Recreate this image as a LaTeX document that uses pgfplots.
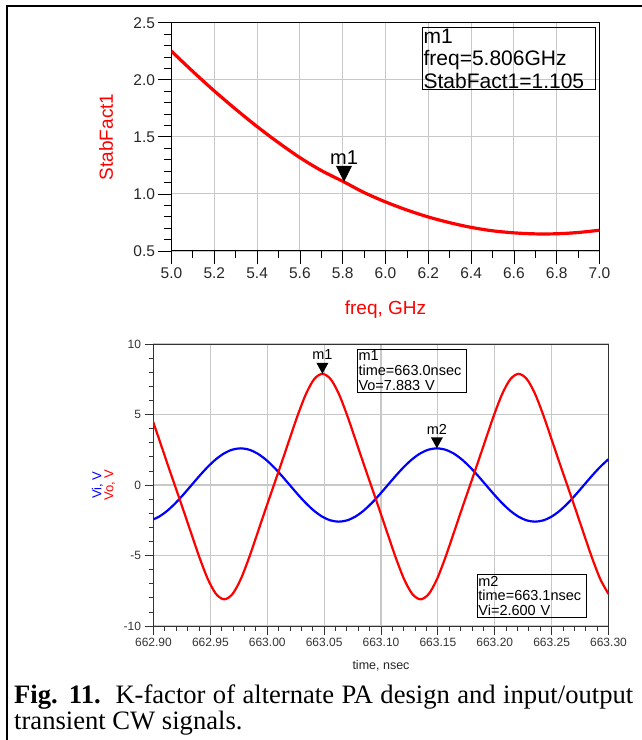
\documentclass[border=0pt]{standalone}
\usepackage{pgfplots}
\usepackage{pgfplotstable}
\pgfplotsset{compat=1.18}
\usepackage{fontspec}
\setmainfont{Liberation Sans}
\newfontfamily\capfont{Liberation Serif}

\definecolor{adsred}{RGB}{255,0,0}
\definecolor{adsblue}{RGB}{0,0,255}
\definecolor{gridgray}{RGB}{200,200,200}

% downward marker triangles, tip on the data point
\pgfdeclareplotmark{dtriL}{%
  \pgfpathmoveto{\pgfqpoint{0pt}{0pt}}%
  \pgfpathlineto{\pgfqpoint{-8pt}{16pt}}%
  \pgfpathlineto{\pgfqpoint{8pt}{16pt}}%
  \pgfpathclose\pgfusepathqfill}
\pgfdeclareplotmark{dtriS}{%
  \pgfpathmoveto{\pgfqpoint{0pt}{0pt}}%
  \pgfpathlineto{\pgfqpoint{-6pt}{11pt}}%
  \pgfpathlineto{\pgfqpoint{6pt}{11pt}}%
  \pgfpathclose\pgfusepathqfill}

% stability factor versus frequency
\pgfplotstableread{
f K
5.0 2.250
5.1 2.072
5.2 1.902
5.3 1.742
5.4 1.590
5.5 1.449
5.6 1.318
5.7 1.205
5.806 1.105
5.9 1.012
6.0 0.930
6.1 0.859
6.2 0.798
6.3 0.748
6.4 0.707
6.5 0.677
6.6 0.659
6.7 0.650
6.8 0.651
6.9 0.662
7.0 0.682
}\stabtable

% transient input (Vi) and output (Vo) voltages
\pgfplotstableread{
t Vo Vi
662.89756 4.981 -2.511
662.90475 3.290 -2.252
662.91194 1.574 -1.838
662.91913 -0.110 -1.300
662.92631 -1.794 -0.673
662.93350 -3.510 0.000
662.94069 -5.201 0.673
662.94788 -6.692 1.300
662.95506 -7.734 1.838
662.96225 -8.110 2.252
662.96944 -7.734 2.511
662.97663 -6.692 2.600
662.98381 -5.201 2.511
662.99100 -3.510 2.252
662.99819 -1.794 1.838
663.00538 -0.110 1.300
663.01256 1.574 0.673
663.01975 3.290 0.000
663.02694 4.981 -0.673
663.03413 6.472 -1.300
663.04131 7.514 -1.838
663.04850 7.883 -2.252
663.05569 7.514 -2.511
663.06288 6.472 -2.600
663.07006 4.981 -2.511
663.07725 3.290 -2.252
663.08444 1.574 -1.838
663.09163 -0.110 -1.300
663.09881 -1.794 -0.673
663.10600 -3.510 0.000
663.11319 -5.201 0.673
663.12038 -6.692 1.300
663.12756 -7.734 1.838
663.13475 -8.110 2.252
663.14194 -7.734 2.511
663.14913 -6.692 2.600
663.15631 -5.201 2.511
663.16350 -3.510 2.252
663.17069 -1.794 1.838
663.17788 -0.110 1.300
663.18506 1.574 0.673
663.19225 3.290 0.000
663.19944 4.981 -0.673
663.20663 6.472 -1.300
663.21381 7.514 -1.838
663.22100 7.883 -2.252
663.22819 7.514 -2.511
663.23538 6.472 -2.600
663.24256 4.981 -2.511
663.24975 3.290 -2.252
663.25694 1.574 -1.838
663.26413 -0.110 -1.300
663.27131 -1.794 -0.673
663.27850 -3.510 0.000
663.28569 -5.201 0.673
663.29288 -6.692 1.300
663.30006 -7.734 1.838
}\transtable

\begin{document}
\begin{tikzpicture}[x=1pt,y=1pt]
\useasboundingbox (0,0) rectangle (641,740);
% frame of the figure
\draw[line width=2.4pt] (7,-5) -- (7,734) -- (646,734);

% ---- stability factor ----
\begin{axis}[
  at={(171.5pt,489pt)}, anchor=south west,
  scale only axis, width=428pt, height=228.3pt,
  xmin=5, xmax=7, ymin=0.5, ymax=2.5,
  xtick={5,5.2,5.4,5.6,5.8,6,6.2,6.4,6.6,6.8,7},
  ytick={0.5,1,1.5,2,2.5},
  minor x tick num=1, minor y tick num=4,
  xtick pos=left, ytick pos=left,
  tick align=outside,
  major tick length=13pt, minor tick length=7pt,
  tick style={black, line width=0.8pt},
  grid=major, major grid style={gridgray, line width=1.1pt},
  axis line style={black, line width=1pt},
  ticklabel style={font=\fontsize{15.5}{16}\selectfont, text=black!85},
  /pgf/number format/assume math mode=true,
  /pgf/number format/fixed,
  /pgf/number format/fixed zerofill,
  /pgf/number format/precision=1,
  xlabel={freq, GHz}, ylabel={StabFact1},
  xlabel style={at={(axis description cs:0.5,-0.258)}, anchor=center,
    font=\fontsize{19}{20}\selectfont, text=adsred},
  ylabel style={at={(axis description cs:-0.153,0.5)}, anchor=center,
    font=\fontsize{19}{20}\selectfont, text=adsred},
]
\addplot[adsred, line width=3.2pt, smooth] table[x=f, y=K] {\stabtable};
\addplot[only marks, mark=dtriL, black,
  nodes near coords={m1},
  every node near coord/.append style={anchor=south, inner sep=0pt, yshift=17pt,
    font=\fontsize{20}{20}\selectfont, text=black}]
  coordinates {(5.806,1.105)};
\node[draw=black, line width=0.8pt, anchor=north west, inner sep=1.5pt,
  align=left, text width=170pt, font=\fontsize{21}{22.5}\selectfont]
  at (rel axis cs:0.5846,0.9825) {m1\\freq=5.806GHz\\StabFact1=1.105};
\end{axis}

% ---- transient waveforms ----
\begin{axis}[
  at={(153.5pt,114pt)}, anchor=south west,
  scale only axis, width=455pt, height=282pt,
  xmin=662.9, xmax=663.3, ymin=-10, ymax=10,
  xtick={662.90,662.95,663.00,663.05,663.10,663.15,663.20,663.25,663.30},
  ytick={-10,-5,0,5,10},
  minor x tick num=4, minor y tick num=4,
  xtick pos=left, ytick pos=left,
  tick align=outside,
  major tick length=9pt, minor tick length=5pt,
  tick style={black!80, line width=0.8pt},
  grid=major, major grid style={gridgray, line width=1.1pt},
  axis line style={black!80, line width=1pt},
  ticklabel style={font=\fontsize{12}{13}\selectfont, text=black!80},
  /pgf/number format/assume math mode=true,
  xticklabel style={/pgf/number format/.cd, fixed, fixed zerofill, precision=2},
  yticklabel style={/pgf/number format/.cd, fixed, precision=0},
  xlabel={time, nsec},
  ylabel={\textcolor{adsblue}{Vi, V}\\\textcolor{adsred}{Vo, V}},
  xlabel style={at={(axis description cs:0.5,-0.142)}, anchor=center,
    font=\fontsize{12.5}{13}\selectfont, text=black!85},
  ylabel style={at={(axis description cs:-0.11,0.5)}, anchor=center, align=center,
    font=\fontsize{13}{12}\selectfont},
]
\addplot[adsblue, line width=2.2pt, smooth] table[x=t, y=Vi] {\transtable};
\addplot[adsred, line width=2.2pt, smooth] table[x=t, y=Vo] {\transtable};
\addplot[only marks, mark=dtriS, black,
  nodes near coords={m1},
  every node near coord/.append style={anchor=south, inner sep=0pt, yshift=14pt,
    font=\fontsize{14.5}{15}\selectfont, text=black}]
  coordinates {(663.0485,7.883)};
\addplot[only marks, mark=dtriS, black,
  nodes near coords={m2},
  every node near coord/.append style={anchor=south, inner sep=0pt, yshift=14pt,
    font=\fontsize{14.5}{15}\selectfont, text=black}]
  coordinates {(663.14913,2.600)};
\node[draw=black, line width=0.7pt, anchor=north west, inner sep=1.5pt,
  align=left, text width=106pt, font=\fontsize{14.5}{14.8}\selectfont]
  at (rel axis cs:0.4466,0.9823) {m1\\time=663.0nsec\\Vo=7.883 V};
\node[draw=black, line width=0.7pt, anchor=north west, inner sep=1.5pt,
  align=left, text width=106pt, font=\fontsize{14.5}{14.8}\selectfont]
  at (rel axis cs:0.71,0.184) {m2\\time=663.1nsec\\Vi=2.600 V};
\end{axis}

% caption
\node[anchor=base west, inner sep=0pt, font=\capfont\fontsize{26.6}{27}\selectfont]
  at (14,37) {\makebox[619pt][s]{\textbf{Fig. 11.}\ \ K-factor of alternate PA design and input/output}};
\node[anchor=base west, inner sep=0pt, font=\capfont\fontsize{26.6}{27}\selectfont]
  at (14,10) {transient CW signals.};
\end{tikzpicture}
\end{document}
